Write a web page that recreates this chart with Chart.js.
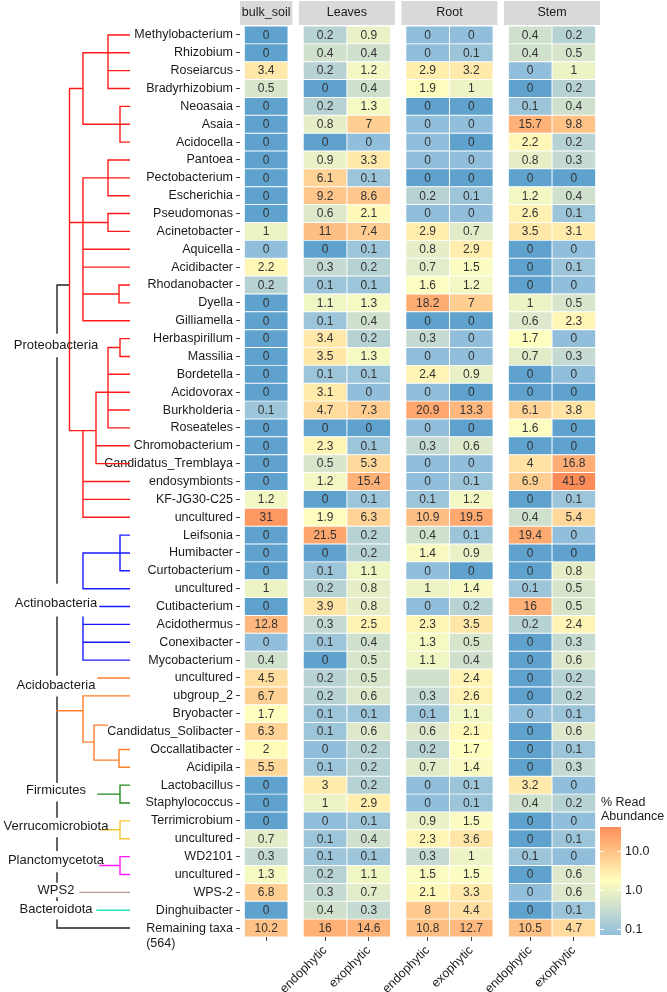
<!DOCTYPE html>
<html>
<head>
<meta charset="utf-8">
<script src="https://cdn.jsdelivr.net/npm/chart.js@4.4.0/dist/chart.umd.min.js"></script>
<style>
html, body { margin: 0; padding: 0; background: #fff; }
canvas { display: block; }
</style>
</head>
<body>
<canvas id="heat" width="667" height="992"></canvas>
<script>
// taxa, top to bottom
const taxa = ['Methylobacterium', 'Rhizobium', 'Roseiarcus', 'Bradyrhizobium', 'Neoasaia', 'Asaia', 'Acidocella',
  'Pantoea', 'Pectobacterium', 'Escherichia', 'Pseudomonas', 'Acinetobacter', 'Aquicella', 'Acidibacter',
  'Rhodanobacter', 'Dyella', 'Gilliamella', 'Herbaspirillum', 'Massilia', 'Bordetella', 'Acidovorax',
  'Burkholderia', 'Roseateles', 'Chromobacterium', 'Candidatus_Tremblaya', 'endosymbionts', 'KF-JG30-C25',
  'uncultured', 'Leifsonia', 'Humibacter', 'Curtobacterium', 'uncultured', 'Cutibacterium', 'Acidothermus',
  'Conexibacter', 'Mycobacterium', 'uncultured', 'ubgroup_2', 'Bryobacter', 'Candidatus_Solibacter',
  'Occallatibacter', 'Acidipila', 'Lactobacillus', 'Staphylococcus', 'Terrimicrobium', 'uncultured',
  'WD2101', 'uncultured', 'WPS-2', 'Dinghuibacter', 'Remaining taxa'];
const remainingCount = '(564)';

const groups = ['bulk_soil', 'Leaves', 'Root', 'Stem'];
const colGroup = [0, 1, 1, 2, 2, 3, 3];
const colLabels = ['', 'endophytic', 'exophytic', 'endophytic', 'exophytic', 'endophytic', 'exophytic'];

// % read abundance (0 = absent, 0.04 = present but rounds to 0)
const bulkSoil = [0, 0, 3.4, 0.5, 0, 0, 0, 0, 0, 0, 0, 1, 0.04, 2.2, 0.2, 0, 0, 0, 0, 0, 0, 0.1, 0, 0, 0, 0, 1.2,
  31, 0, 0, 0, 1, 0, 12.8, 0.04, 0.4, 4.5, 6.7, 1.7, 6.3, 2, 5.5, 0, 0, 0, 0.7, 0.3, 1.3, 6.8, 0, 10.2];
const leavesEndo = [0.2, 0.4, 0.2, 0, 0.2, 0.8, 0, 0.9, 6.1, 9.2, 0.6, 11, 0, 0.3, 0.1, 1.1, 0.1, 3.4, 3.5, 0.1, 3.1,
  4.7, 0, 2.3, 0.5, 1.2, 0, 1.9, 21.5, 0, 0.1, 0.2, 3.9, 0.3, 0.1, 0, 0.2, 0.2, 0.1, 0.1, 0.04, 0.1, 3, 1, 0.04,
  0.1, 0.1, 0.2, 0.3, 0.4, 16];
const leavesExo = [0.9, 0.4, 1.2, 0.4, 1.3, 7, 0.04, 3.3, 0.1, 8.6, 2.1, 7.4, 0.1, 0.2, 0.1, 1.3, 0.4, 0.2, 1.3, 0.1,
  0.04, 7.3, 0, 0.1, 5.3, 15.4, 0.1, 6.3, 0.2, 0.2, 1.1, 0.8, 0.8, 2.5, 0.4, 0.5, 0.5, 0.6, 0.1, 0.6, 0.2, 0.2,
  0.2, 2.9, 0.1, 0.4, 0.1, 1.1, 0.7, 0.3, 14.6];
const rootEndo = [0.04, 0.04, 2.9, 1.9, 0, 0.04, 0.04, 0.04, 0, 0.2, 0.04, 2.9, 0.8, 0.7, 1.6, 18.2, 0, 0.3, 0.04, 2.4,
  0.04, 20.9, 0.04, 0.3, 0.04, 0.04, 0.1, 10.9, 0.4, 1.4, 0.04, 1, 0.04, 2.3, 1.3, 1.1, 0.4, 0.3, 0.1, 0.6, 0.2,
  0.7, 0.04, 0.04, 0.9, 2.3, 0.3, 1.5, 2.1, 8, 10.8];
const rootExo = [0.04, 0.1, 3.2, 1, 0, 0.04, 0, 0.04, 0, 0.1, 0.04, 0.7, 2.9, 1.5, 1.2, 7, 0, 0.04, 0.04, 0.9, 0, 13.3,
  0, 0.6, 0.04, 0.1, 1.2, 19.5, 0.1, 0.9, 0, 1.4, 0.2, 3.5, 0.5, 0.4, 2.4, 2.6, 1.1, 2.1, 1.7, 1.4, 0.1, 0.1, 1.5,
  3.6, 1, 1.5, 3.3, 4.4, 12.7];
const stemEndo = [0.4, 0.4, 0.04, 0, 0.1, 15.7, 2.2, 0.8, 0, 1.2, 2.6, 3.5, 0, 0, 0, 1, 0.6, 1.7, 0.7, 0, 0, 6.1, 1.6, 0,
  4, 6.9, 0, 0.4, 19.4, 0, 0, 0.1, 16, 0.2, 0, 0, 0, 0, 0.04, 0, 0, 0, 3.2, 0.4, 0, 0, 0.1, 0, 0.04, 0, 10.5];
const stemExo = [0.2, 0.5, 1, 0.2, 0.4, 9.8, 0.2, 0.3, 0, 0.4, 0.1, 3.1, 0.04, 0.1, 0.04, 0.5, 2.3, 0.04, 0.3, 0.04, 0,
  3.8, 0, 0, 16.8, 41.9, 0.1, 5.4, 0.04, 0, 0.8, 0.5, 0.5, 2.4, 0.3, 0.6, 0.2, 0.2, 0.1, 0.6, 0.1, 0.3, 0.04, 0.2,
  0.04, 0.1, 0.04, 0.6, 0.6, 0.1, 4.7];
const columns = [bulkSoil, leavesEndo, leavesExo, rootEndo, rootExo, stemEndo, stemExo];
// cell printed without a number in the original: [row, column]
const unlabelled = [[36, 3]];
rootEndo[36] = 0.4;

const legendTicks = [0.1, 1, 10];
const lowLimit = 0.075, highLimit = 41.9;

// layout of the facet panels along x (tile units)
const panelStart = [0, 1.35, 3.7, 6.05];
const panelWidth = [1.2, 2.2, 2.2, 2.2];
const colCenter = colGroup.map((g, c) => panelStart[g] + 0.6 + colGroup.slice(0, c).filter(x => x === g).length);

const FONT = '"Liberation Sans", Arial, Helvetica, sans-serif';
Chart.defaults.font.family = FONT;

//цвета: RdYlBu в Lab, лог-шкала
const ramp = ['#91bfdb', '#ffffbf', '#fc8d59'];
const naColour = '#5fa2cd';

function toLin(c) { c /= 255; return c <= 0.04045 ? c / 12.92 : Math.pow((c + 0.055) / 1.055, 2.4); }
function toSrgb(c) {
    c = c <= 0.0031308 ? 12.92 * c : 1.055 * Math.pow(c, 1 / 2.4) - 0.055;
    return Math.round(Math.max(0, Math.min(1, c)) * 255);
}
function hexToLab(h) {
    const r = toLin(parseInt(h.slice(1, 3), 16)), g = toLin(parseInt(h.slice(3, 5), 16)), b = toLin(parseInt(h.slice(5, 7), 16));
    const x = (0.4124 * r + 0.3576 * g + 0.1805 * b) / 0.95047;
    const y = 0.2126 * r + 0.7152 * g + 0.0722 * b;
    const z = (0.0193 * r + 0.1192 * g + 0.9505 * b) / 1.08883;
    const f = t => t > 0.008856 ? Math.cbrt(t) : 7.787 * t + 16 / 116;
    return [116 * f(y) - 16, 500 * (f(x) - f(y)), 200 * (f(y) - f(z))];
}
function labToRgb(L, a, bb) {
    const fy = (L + 16) / 116, fx = fy + a / 500, fz = fy - bb / 200;
    const inv = t => t * t * t > 0.008856 ? t * t * t : (t - 16 / 116) / 7.787;
    const x = inv(fx) * 0.95047, y = inv(fy), z = inv(fz) * 1.08883;
    const r = 3.2406 * x - 1.5372 * y - 0.4986 * z;
    const g = -0.9689 * x + 1.8758 * y + 0.0415 * z;
    const b = 0.0557 * x - 0.2040 * y + 1.0570 * z;
    return 'rgb(' + toSrgb(r) + ',' + toSrgb(g) + ',' + toSrgb(b) + ')';
}
const rampLab = ramp.map(hexToLab);
const logLo = Math.log10(lowLimit), logHi = Math.log10(highLimit);

function colourAt(t) {
    t = Math.max(0, Math.min(1, t));
    const seg = t < 0.5 ? 0 : 1;
    const u = (t - seg * 0.5) / 0.5;
    const p = rampLab[seg], q = rampLab[seg + 1];
    return labToRgb(p[0] + (q[0] - p[0]) * u, p[1] + (q[1] - p[1]) * u, p[2] + (q[2] - p[2]) * u);
}
function fillFor(v) {
    if (v === 0) return naColour;
    return colourAt((Math.log10(v) - logLo) / (logHi - logLo));
}
function cellText(v) { return String(Math.round(v * 10) / 10); }

// дерево: [цвет, [['v', x, row1, row2] | ['h', row, x1, x2] ...]], rows 1-based
const tree = [
    ['#222', [['v', 57, 15, 17.69], ['v', 57, 19.09, 31.69], ['v', 57, 33.59, 36.84], ['v', 57, 38.07, 42.83],
        ['v', 57, 43.95, 44.79], ['v', 57, 45.96, 46.64], ['v', 57, 47.92, 48.43], ['v', 57, 49.32, 49.44],
        ['v', 57, 50.56, 51], ['h', 15, 57, 69.5], ['h', 51, 57, 130]]],
    ['#ff1a1a', [['v', 69.5, 4, 23.15], ['h', 4, 69.5, 83], ['v', 83, 2, 6], ['h', 2, 83, 130], ['v', 108, 1, 4],
        ['h', 1, 108, 130], ['h', 3, 108, 130], ['h', 4, 108, 130], ['h', 6, 83, 130], ['v', 120, 5, 7],
        ['h', 5, 120, 130], ['h', 7, 120, 130],
        ['h', 11.5, 69.5, 108], ['v', 83, 9, 17], ['h', 9, 83, 130], ['v', 108, 8, 10], ['h', 8, 108, 130],
        ['h', 10, 108, 130], ['v', 108, 11, 12], ['h', 11, 108, 130], ['h', 12, 108, 130], ['h', 13, 83, 130],
        ['h', 14, 83, 130], ['h', 15.5, 83, 119], ['v', 119, 15, 16], ['h', 15, 119, 130], ['h', 16, 119, 130],
        ['h', 17, 83, 130],
        ['h', 23.15, 69.5, 96], ['v', 83, 23.15, 28], ['h', 26, 83, 130], ['h', 27, 83, 130], ['h', 28, 83, 130],
        ['v', 96, 21, 25], ['h', 21, 96, 130], ['h', 24, 96, 130], ['h', 25, 96, 130], ['v', 108, 18.5, 23],
        ['h', 20, 108, 130], ['h', 22, 108, 130], ['h', 23, 108, 130], ['h', 18.5, 108, 120], ['v', 120, 18, 19],
        ['h', 18, 120, 130], ['h', 19, 120, 130]]],
    ['#1a1aff', [['v', 120, 29, 31], ['h', 29, 120, 130], ['h', 31, 120, 130], ['h', 30, 83, 130], ['v', 83, 30, 32],
        ['h', 32, 83, 130], ['h', 33, 100, 130], ['v', 83, 33.59, 36], ['h', 34, 83, 130], ['h', 35, 83, 130],
        ['h', 36, 83, 130]]],
    ['#ff7f2a', [['h', 37, 98, 130], ['h', 38, 83, 130], ['h', 38.83, 57, 83], ['v', 83, 38, 40.59],
        ['h', 40.59, 83, 94], ['v', 94, 39.64, 41.6], ['h', 39.64, 94, 108], ['h', 41.6, 94, 119],
        ['v', 119, 41, 42], ['h', 41, 119, 130], ['h', 42, 119, 130]]],
    ['#228b22', [['v', 120, 43, 44], ['h', 43.5, 98, 120], ['h', 43, 120, 130], ['h', 44, 120, 130]]],
    ['#f8c630', [['v', 120, 45, 46], ['h', 45.5, 100, 120], ['h', 45, 120, 130], ['h', 46, 120, 130]]],
    ['#ff1aff', [['v', 120, 47, 48], ['h', 47.5, 100, 120], ['h', 47, 120, 130], ['h', 48, 120, 130]]],
    ['#b09a94', [['h', 49, 80, 130]]],
    ['#1ee8c8', [['h', 50, 97, 130]]]
];
const phyla = [['Proteobacteria', 18.37], ['Actinobacteria', 32.81], ['Acidobacteria', 37.4], ['Firmicutes', 43.28],
    ['Verrucomicrobiota', 45.33], ['Planctomycetota', 47.2], ['WPS2', 48.88], ['Bacteroidota', 49.94]];

const extras = {
    id: 'extras',
    afterDraw(chart) {
        const ctx = chart.ctx;
        const x = chart.scales.x, y = chart.scales.y;
        const rowY = r => y.getPixelForValue(r - 1);
        ctx.save();

        // strips
        groups.forEach((g, i) => {
            const x0 = x.getPixelForValue(panelStart[i]), x1 = x.getPixelForValue(panelStart[i] + panelWidth[i]);
            ctx.fillStyle = '#d9d9d9';
            ctx.fillRect(x0, 1, x1 - x0, 24);
            ctx.fillStyle = '#1a1a1a';
            ctx.font = '12.5px ' + FONT;
            ctx.textAlign = 'center';
            ctx.textBaseline = 'middle';
            ctx.fillText(g, (x0 + x1) / 2, 13);
        });

        // tree
        ctx.lineWidth = 1.4;
        ctx.lineCap = 'butt';
        tree.forEach(([col, segs]) => {
            ctx.strokeStyle = col;
            ctx.beginPath();
            segs.forEach(s => {
                if (s[0] === 'v') {
                    ctx.moveTo(s[1], rowY(s[2]) - 0.7);
                    ctx.lineTo(s[1], rowY(s[3]) + 0.7);
                } else {
                    ctx.moveTo(s[2] - 0.7, rowY(s[1]));
                    ctx.lineTo(s[3], rowY(s[1]));
                }
            });
            ctx.stroke();
        });
        ctx.fillStyle = '#1a1a1a';
        ctx.font = '13px ' + FONT;
        ctx.textAlign = 'center';
        ctx.textBaseline = 'middle';
        phyla.forEach(([name, r]) => ctx.fillText(name, 56, rowY(r)));

        // (564) under "Remaining taxa"
        ctx.font = '12.5px ' + FONT;
        const lblRight = y.right - 4 - 3;
        const w = ctx.measureText(taxa[taxa.length - 1]).width;
        ctx.textAlign = 'left';
        ctx.fillText(remainingCount, lblRight - w, rowY(taxa.length) + 15.5);

        // legend
        const lx = 600, lw = 21, top = 827, decade = 39;
        const ly = v => top + (logHi - Math.log10(v)) * decade;
        const bottom = ly(lowLimit);
        for (let py = top; py < bottom; py++) {
            ctx.fillStyle = colourAt(1 - (py + 0.5 - top) / (bottom - top));
            ctx.fillRect(lx, py, lw, 1);
        }
        ctx.strokeStyle = '#fff';
        ctx.lineWidth = 1;
        ctx.fillStyle = '#1a1a1a';
        ctx.textAlign = 'left';
        legendTicks.forEach(t => {
            const py = Math.round(ly(t)) + 0.5;
            ctx.beginPath();
            ctx.moveTo(lx, py); ctx.lineTo(lx + 4, py);
            ctx.moveTo(lx + lw - 4, py); ctx.lineTo(lx + lw, py);
            ctx.stroke();
            ctx.fillText(t.toFixed(1), lx + lw + 4, py);
        });
        ctx.fillText('% Read', 601, 803);
        ctx.fillText('Abundance', 601, 817);
        ctx.restore();
    },
    afterDatasetsDraw(chart) {
        const ctx = chart.ctx;
        ctx.save();
        ctx.font = '12px ' + FONT;
        ctx.fillStyle = '#333';
        ctx.textAlign = 'center';
        ctx.textBaseline = 'middle';
        columns.forEach((vals, c) => {
            chart.getDatasetMeta(c).data.forEach((el, i) => {
                if (unlabelled.some(u => u[0] === i && u[1] === c)) return;
                ctx.fillText(cellText(vals[i]), (el.x + el.base) / 2, el.y + 0.5);
            });
        });
        ctx.restore();
    }
};

const config = {
    type: 'bar',
    data: {
        labels: taxa,
        datasets: columns.map((vals, c) => ({
            label: groups[colGroup[c]] + ' ' + colLabels[c],
            data: vals.map(() => [colCenter[c] - 0.5, colCenter[c] + 0.5]),
            backgroundColor: vals.map(fillFor),
            borderColor: '#fff',
            borderWidth: 0.8,
            borderSkipped: false,
            barPercentage: 1,
            categoryPercentage: 1,
            grouped: false
        }))
    },
    options: {
        indexAxis: 'y',
        responsive: false,
        animation: false,
        layout: { padding: { top: 26, right: 67, left: 0, bottom: 0 } },
        plugins: { legend: { display: false }, tooltip: { enabled: false } },
        scales: {
            y: {
                type: 'category',
                grid: { drawOnChartArea: false, offset: false, tickLength: 4, color: '#444' },
                border: { display: false },
                ticks: { autoSkip: false, padding: 3, color: '#1a1a1a', font: { size: 12.5 } },
                afterFit: s => { s.width = 240; }
            },
            x: {
                type: 'linear',
                min: 0,
                max: panelStart[3] + panelWidth[3],
                grid: { drawOnChartArea: false, tickLength: 4, color: '#444' },
                border: { display: false },
                ticks: {
                    autoSkip: false, maxRotation: 45, minRotation: 45, padding: 2, color: '#1a1a1a',
                    font: { size: 12.5 }, callback: (v, i) => colLabels[i]
                },
                afterBuildTicks: s => { s.ticks = colCenter.map(v => ({ value: v })); },
                afterFit: s => { s.height = 55; }
            }
        }
    },
    plugins: [extras]
};

const heatChart = new Chart(document.getElementById('heat'), config);
</script>
</body>
</html>
